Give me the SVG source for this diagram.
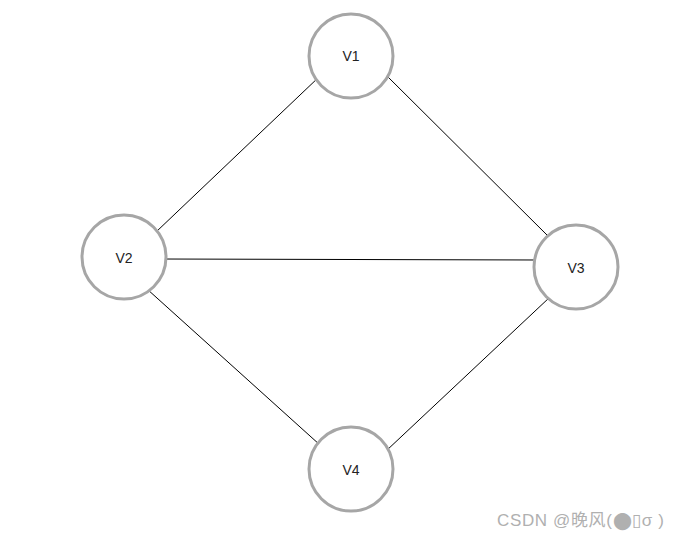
<svg xmlns="http://www.w3.org/2000/svg" width="680" height="539" viewBox="0 0 680 539">
<style>
.node circle{fill:#fff;stroke:#a6a6a6;stroke-width:3}
.node text{font-family:"Liberation Sans",Arial,sans-serif;font-size:14px;fill:#222;text-anchor:middle;dominant-baseline:central}
#edges line{stroke:#000;stroke-width:1}
.wm{font-family:"Liberation Sans","Noto Sans CJK SC",sans-serif;font-size:17px;fill:#b0b0b0}
</style>
<rect width="680" height="539" fill="#fff"/>
<g id="edges">
<line x1="320" y1="76" x2="156" y2="232"/>
<line x1="386" y1="75" x2="550" y2="238"/>
<line x1="160" y1="259" x2="540" y2="260"/>
<line x1="147" y1="289" x2="320" y2="445"/>
<line x1="550" y1="297" x2="386" y2="451"/>
</g>
<g id="V1" class="node"><circle cx="351" cy="56" r="42"/><text x="351" y="56">V1</text></g>
<g id="V2" class="node"><circle cx="124" cy="257" r="42"/><text x="124" y="258">V2</text></g>
<g id="V3" class="node"><circle cx="576" cy="267" r="42"/><text x="576" y="268">V3</text></g>
<g id="V4" class="node"><circle cx="351" cy="469" r="42"/><text x="351" y="470">V4</text></g>
<text class="wm" x="497" y="526" textLength="167" lengthAdjust="spacing">CSDN @晚风(⬤▯σ )</text>
</svg>
